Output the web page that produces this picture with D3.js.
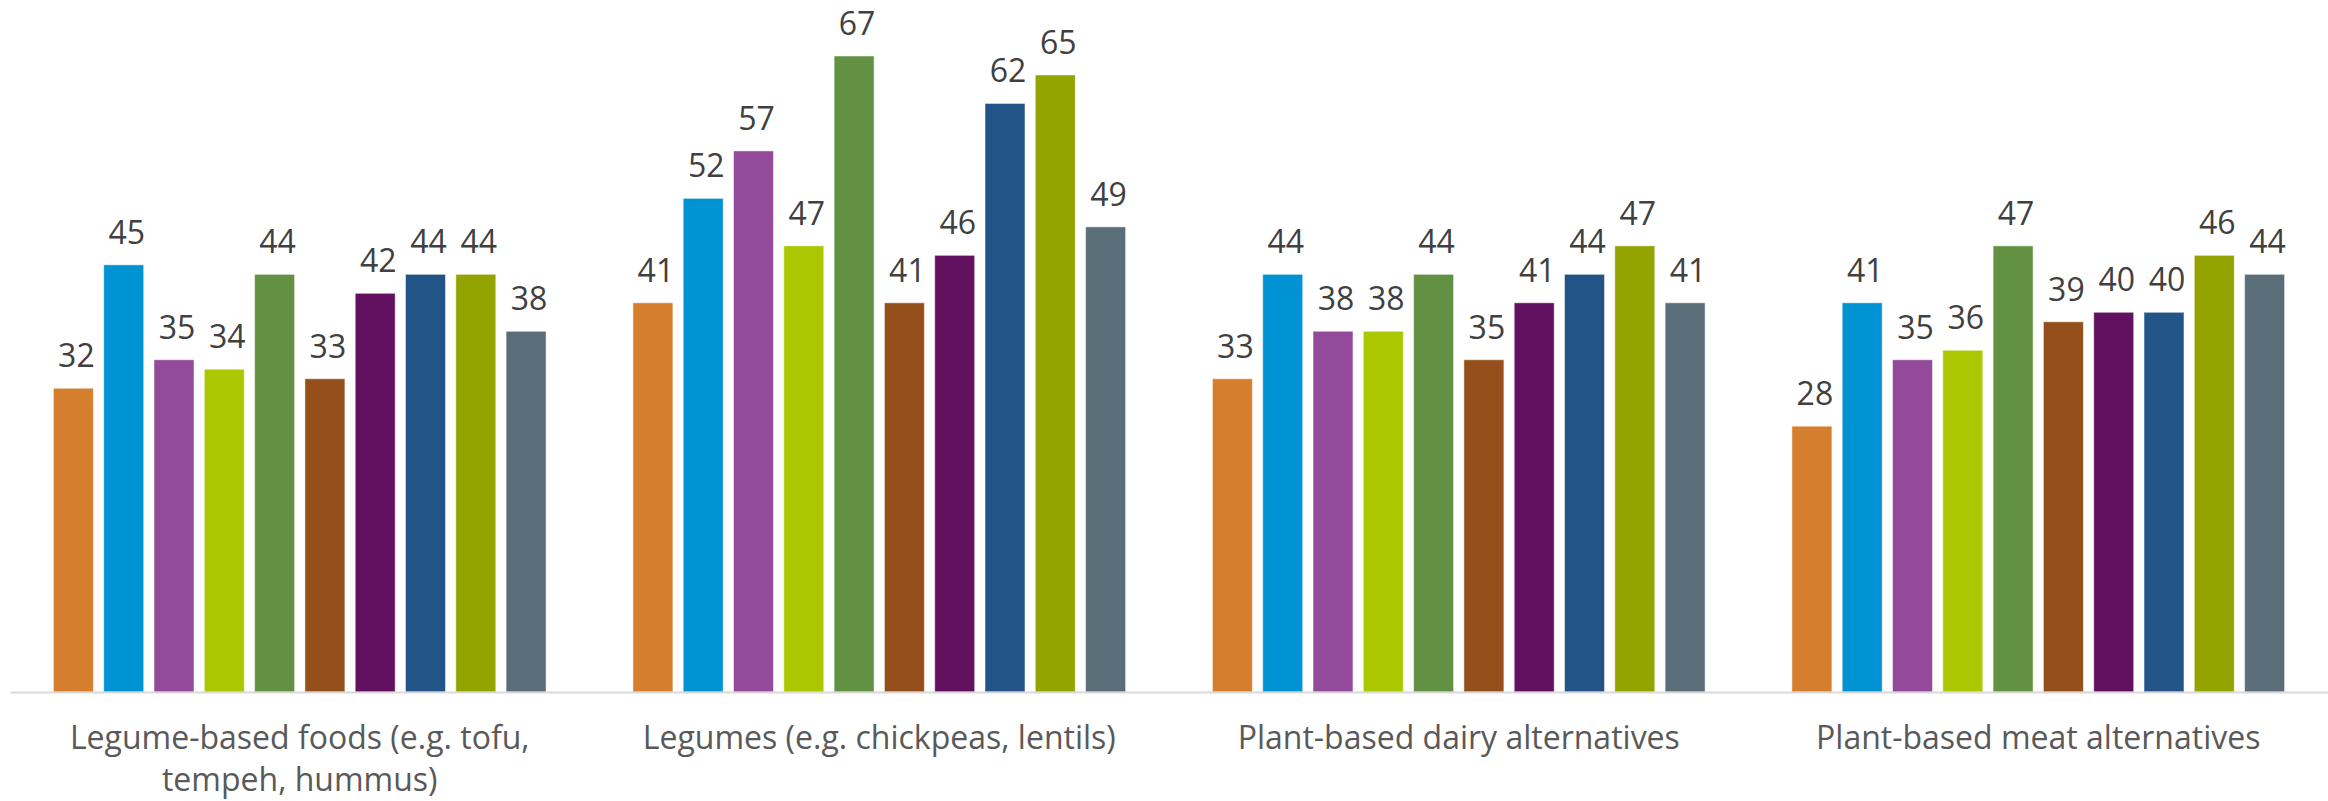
<!DOCTYPE html>
<html>
<head>
<meta charset="utf-8">
<script src="https://cdn.jsdelivr.net/npm/d3@7/dist/d3.min.js"></script>
<style>
  html, body { margin: 0; padding: 0; background: #ffffff; }
  svg { display: block; }
</style>
</head>
<body>
<svg id="chart" width="2328" height="801"></svg>
<script>
// Product categories along the x axis (multi-line labels split on "\n")
const categories = [
  "Legume-based foods (e.g. tofu,\ntempeh, hummus)",
  "Legumes (e.g. chickpeas, lentils)",
  "Plant-based dairy alternatives",
  "Plant-based meat alternatives"
];

// Ten bars per category, in series order
const legumeBasedFoods   = [32, 45, 35, 34, 44, 33, 42, 44, 44, 38];
const legumes            = [41, 52, 57, 47, 67, 41, 46, 62, 65, 49];
const dairyAlternatives  = [33, 44, 38, 38, 44, 35, 41, 44, 47, 41];
const meatAlternatives   = [28, 41, 35, 36, 47, 39, 40, 40, 46, 44];

const seriesColors = [
  "#D57F2E", "#0093D3", "#934A9A", "#AAC700", "#639143",
  "#944F1A", "#621160", "#235487", "#93A300", "#5A6E79"
];

const valuesByCategory = [legumeBasedFoods, legumes, dairyAlternatives, meatAlternatives];
const table = categories.map((c, i) => ({ category: c, values: valuesByCategory[i] }));

const svg = d3.select("#chart");
const baseY = 692;

const x0 = d3.scaleBand()
  .domain(categories)
  .range([10, 2328])
  .paddingInner(0)
  .paddingOuter(0);

const x1 = d3.scaleBand()
  .domain(d3.range(seriesColors.length))
  .range([0, x0.bandwidth()])
  .paddingInner(0.205)
  .paddingOuter(0.863);

const y = d3.scaleLinear()
  .domain([0, 70])
  .range([baseY, 27.5]);

const groups = svg.append("g")
  .selectAll("g.group")
  .data(table)
  .join("g")
  .attr("class", "group")
  .attr("transform", d => `translate(${x0(d.category)},0)`);

groups.selectAll("rect")
  .data(d => d.values.map((v, i) => ({ v, i })))
  .join("rect")
  .attr("x", d => x1(d.i))
  .attr("y", d => y(d.v))
  .attr("width", x1.bandwidth())
  .attr("height", d => y(0) - y(d.v))
  .attr("fill", d => seriesColors[d.i])
  .attr("stroke", "#ffffff")
  .attr("stroke-opacity", 0.5)
  .attr("stroke-width", 1);

// Value labels above each bar
groups.selectAll("text.value")
  .data(d => d.values.map((v, i) => ({ v, i })))
  .join("text")
  .attr("class", "value")
  .attr("x", d => x1(d.i) + x1.bandwidth() / 2 + 3)
  .attr("y", d => y(d.v) - 21)
  .attr("text-anchor", "middle")
  .attr("font-family", "'Open Sans', sans-serif")
  .attr("font-size", 32)
  .attr("fill", "#404040")
  .text(d => d.v);

// Baseline
const xAxis = d3.axisBottom(x0).tickSize(0).tickFormat("");
const axisG = svg.append("g")
  .attr("transform", `translate(0,${baseY})`)
  .call(xAxis);
axisG.select(".domain")
  .attr("stroke", "#d9d9d9")
  .attr("stroke-width", 2);

// Category labels, wrapped onto lines
const catLabels = svg.append("g")
  .selectAll("text.cat")
  .data(categories)
  .join("text")
  .attr("class", "cat")
  .attr("x", d => x0(d) + x0.bandwidth() / 2)
  .attr("y", 749)
  .attr("text-anchor", "middle")
  .attr("font-family", "'Open Sans', sans-serif")
  .attr("font-size", 32)
  .attr("fill", "#595959");

catLabels.selectAll("tspan")
  .data(d => d.split("\n"))
  .join("tspan")
  .attr("x", function() { return d3.select(this.parentNode).attr("x"); })
  .attr("dy", (d, i) => i === 0 ? 0 : 42)
  .text(d => d);
</script>
</body>
</html>
